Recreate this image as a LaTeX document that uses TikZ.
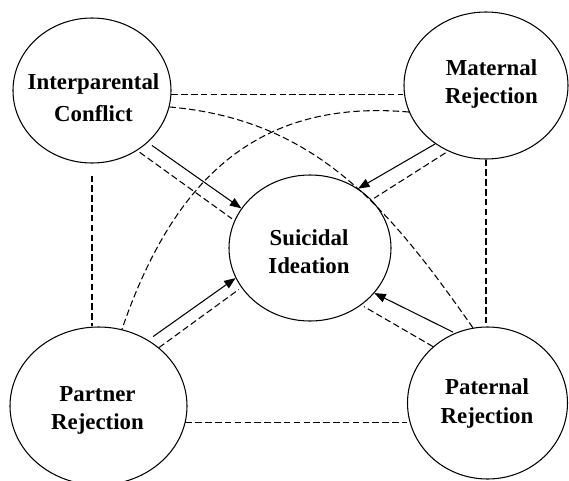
\documentclass[tikz,border=0pt]{standalone}
\usepackage{fontspec}
\setmainfont{Liberation Serif}
\usetikzlibrary{arrows.meta,shapes.geometric}

\tikzset{
  factor/.style={ellipse, draw, line width=0.6pt, inner sep=0pt},
  factxt/.style={font=\fontsize{13}{16}\selectfont\bfseries, align=center, inner sep=0pt},
  corr/.style={line width=0.6pt, dash pattern=on 3.7pt off 1.9pt},
  effect/.style={line width=0.6pt, -{Triangle[length=6.5pt,width=5pt]}}
}

\begin{document}
\begin{tikzpicture}[x=0.2mm,y=0.2mm]
        \useasboundingbox (0,0) rectangle (569,-481);
        % Factors
        \node[factor, minimum width=31.6mm, minimum height=29mm] (ic) at (92,-90.5) {};
        \node[factor, minimum width=32.8mm, minimum height=29.4mm] (mr) at (486,-85.5) {};
        \node[factor, minimum width=32.4mm, minimum height=29.2mm] (si) at (310,-248) {};
        \node[factor, minimum width=35.4mm, minimum height=31.6mm] (pr) at (98.5,-406) {};
        \node[factor, minimum width=32mm, minimum height=30.4mm] (par) at (487.5,-403) {};
        % Labels
        \node[factxt, font=\fontsize{13}{18}\selectfont\bfseries] (ic-t) at (93.5,-98) {Interparental\\Conflict};
        \node[factxt] (mr-t) at (491.5,-84) {Maternal\\Rejection};
        \node[factxt] (si-t) at (309,-252) {Suicidal\\Ideation};
        \node[factxt] (pr-t) at (97.5,-410.5) {Partner\\Rejection};
        \node[factxt] (par-t) at (487,-403.5) {Paternal\\Rejection};
        % Correlations between factors
        \draw[corr] (ic.-3) -- (ic.-3 -| mr.west);
        \draw[corr, shorten <=2.4mm] (ic.south) -- (ic.south |- pr.north);
        \draw[corr] (mr.south) -- (mr.south |- par.north);
        \draw[corr] (pr.-11) -- (pr.-11 -| par.west);
        \draw[corr] (ic.-12) to[out=-5, in=125] (par.101);
        \draw[corr] (mr.199) to[out=175, in=71, looseness=1.1] (pr.73);
        % Paths to suicidal ideation
        \draw[effect, shorten <=1mm] (ic.-43) -- (si.150);
        \draw[corr, shorten <=0.6mm, shorten >=0.6mm] (ic.-53) -- (si.160);
        \draw[effect] (mr.229) -- (si.51);
        \draw[corr, shorten <=0.6mm, shorten >=0.6mm] (mr.240) -- (si.38);
        \draw[effect, shorten <=1.2mm] (pr.53) -- (si.202);
        \draw[corr, shorten >=0.6mm] (pr.44) -- (si.210);
        \draw[effect, shorten <=0.4mm] (par.115) -- (si.-35);
        \draw[corr, shorten >=0.6mm] (par.134) -- (si.-48);
\end{tikzpicture}
\end{document}
